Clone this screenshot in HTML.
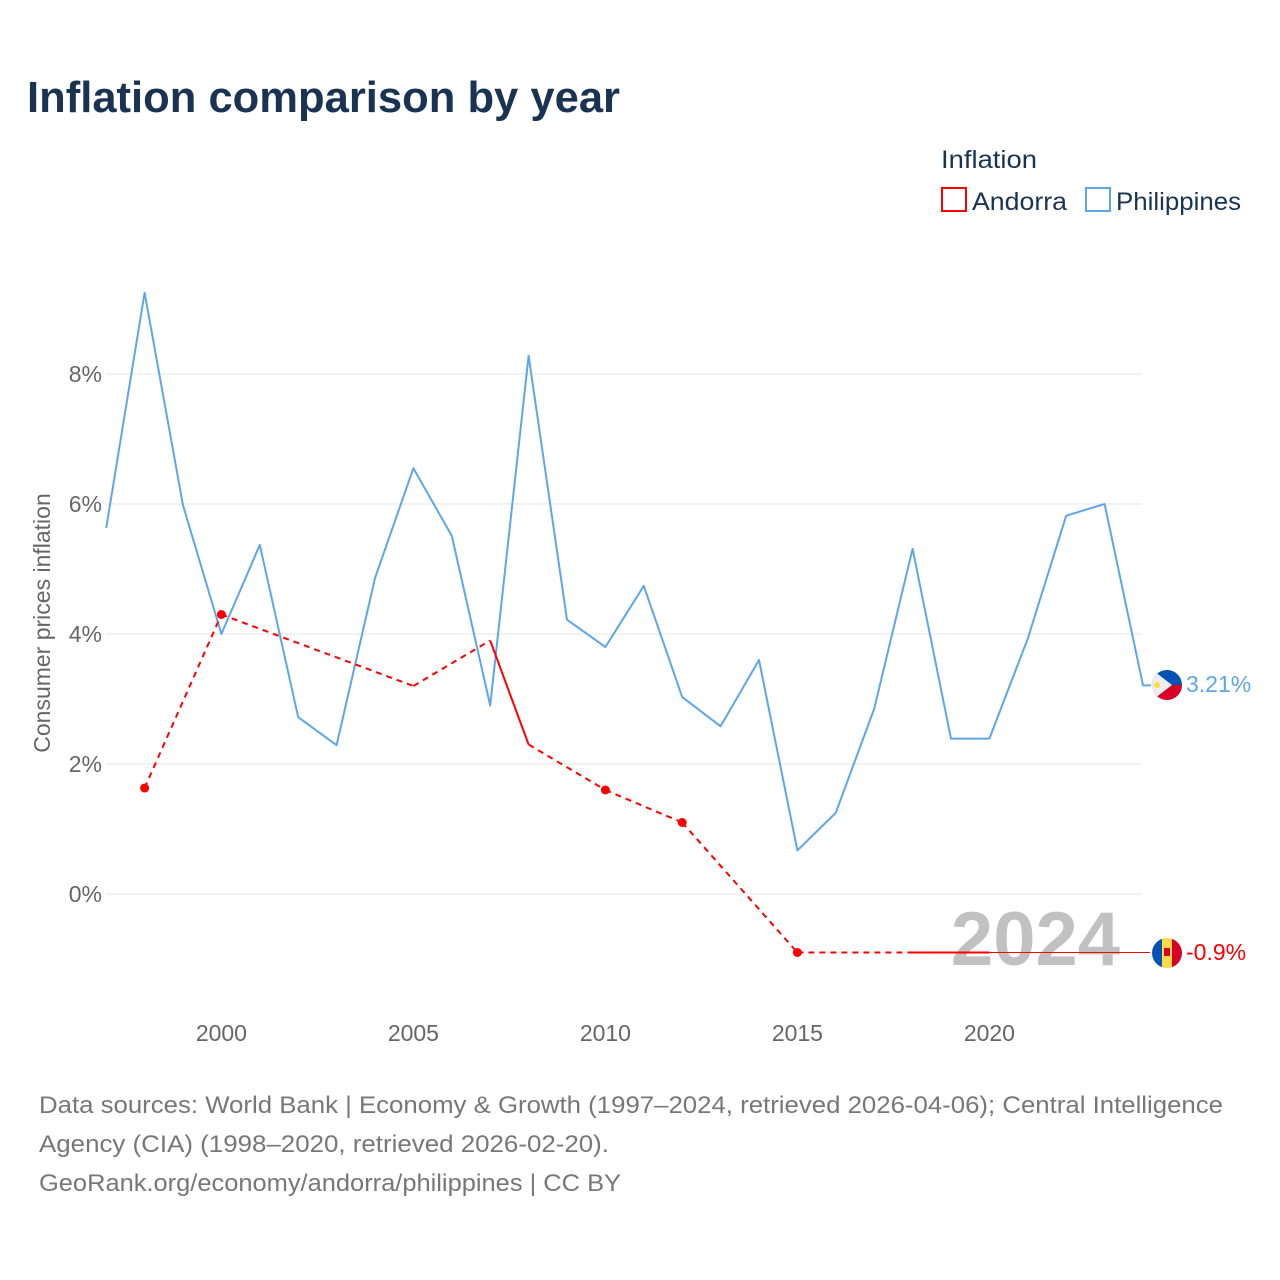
<!DOCTYPE html>
<html><head><meta charset="utf-8"><style>
body{margin:0;background:#fff;}
svg{display:block;font-family:"Liberation Sans",sans-serif;}
</style></head><body>
<svg id="chart" width="1280" height="1280" viewBox="0 0 1280 1280">
<rect width="1280" height="1280" fill="#fff"/>
<text x="27" y="112" font-size="44" font-weight="bold" fill="#1a3353" textLength="593" lengthAdjust="spacingAndGlyphs">Inflation comparison by year</text>
<g>
<text x="941" y="168" font-size="25" fill="#1a3353" textLength="96" lengthAdjust="spacingAndGlyphs">Inflation</text>
<g>
<rect x="942" y="188" width="24" height="23" fill="none" stroke="#ff0000" stroke-width="2"/>
<text x="972" y="210" font-size="25" fill="#1a3353" textLength="95" lengthAdjust="spacingAndGlyphs">Andorra</text></g>
<g>
<rect x="1086" y="188" width="24" height="23" fill="none" stroke="#5ea6ea" stroke-width="2"/>
<text x="1116" y="210" font-size="25" fill="#1a3353" textLength="125" lengthAdjust="spacingAndGlyphs">Philippines</text></g>
</g>
<g id="grid"></g>
<g id="yt"></g>
<g id="xt"></g>
<text x="0" y="0" transform="translate(50,623) rotate(-90)" text-anchor="middle" font-size="23" fill="#666">Consumer prices inflation</text>
<text x="1120" y="965" text-anchor="end" font-size="76" font-weight="bold" fill="#bbb" opacity="0.9">2024</text>
<g id="series"></g>
<g>
<clipPath id="cp1"><circle cx="1167" cy="685" r="15"/></clipPath>
<g clip-path="url(#cp1)"><rect x="1150" y="668" width="34" height="17" fill="#0052b4"/><rect x="1150" y="685" width="34" height="17" fill="#d80027"/><polygon points="1150,668 1172,685 1150,702" fill="#eee"/><circle cx="1157" cy="685" r="3" fill="#ffda44"/></g></g>
<text x="1186" y="692" font-size="23" fill="#5ea6ea">3.21%</text>
<g>
<clipPath id="cp2"><circle cx="1167" cy="953" r="15"/></clipPath>
<g clip-path="url(#cp2)"><rect x="1150" y="936" width="12" height="34" fill="#0052b4"/><rect x="1162" y="936" width="10" height="34" fill="#ffda44"/><rect x="1172" y="936" width="12" height="34" fill="#d80027"/><rect x="1164" y="948" width="6" height="8" fill="#d80027"/></g></g>
<text x="1186" y="960" font-size="23" fill="#ff0000">-0.9%</text>
<g font-size="24" fill="#777">
<text x="39" y="1113" textLength="1184" lengthAdjust="spacingAndGlyphs">Data sources: World Bank | Economy &amp; Growth (1997–2024, retrieved 2026-04-06); Central Intelligence</text>
<text x="39" y="1152" textLength="570" lengthAdjust="spacingAndGlyphs">Agency (CIA) (1998–2020, retrieved 2026-02-20).</text>
<text x="39" y="1191" textLength="582" lengthAdjust="spacingAndGlyphs">GeoRank.org/economy/andorra/philippines | CC BY</text>
</g>
</svg>
<script>
const phYears=[1997,1998,1999,2000,2001,2002,2003,2004,2005,2006,2007,2008,2009,2010,2011,2012,2013,2014,2015,2016,2017,2018,2019,2020,2021,2022,2023,2024];
const phValues=[5.63,9.25,5.98,4.0,5.37,2.72,2.29,4.86,6.55,5.51,2.9,8.28,4.22,3.8,4.74,3.03,2.58,3.6,0.67,1.25,2.85,5.31,2.39,2.39,3.93,5.82,6.0,3.21];
const adYears=[1998,2000,2005,2007,2008,2010,2012,2015,2018,2019,2020];
const adValues=[1.63,4.3,3.2,3.9,2.3,1.6,1.1,-0.9,-0.9,-0.9,-0.9];
const yTicks=[0,2,4,6,8];
const yTickLabels=["0%","2%","4%","6%","8%"];
const xTicks=[2000,2005,2010,2015,2020];
const NS="http://www.w3.org/2000/svg";
const X=y=>106.2+(y-1997)*38.4;
const Y=v=>894-v*65;
function mk(tag,attrs,parent){const e=document.createElementNS(NS,tag);for(const k in attrs)e.setAttribute(k,attrs[k]);parent.appendChild(e);return e;}
const grid=document.getElementById('grid'),yt=document.getElementById('yt'),xt=document.getElementById('xt'),ser=document.getElementById('series');
yTicks.forEach((t,i)=>{
 const l=mk('line',{x1:106,x2:1142,y1:Y(t),y2:Y(t),stroke:'#e6e6e6','stroke-width':1},grid);
 
 
 const tx=mk('text',{x:102,y:Y(t)+8,'text-anchor':'end','font-size':23,fill:'#666'},yt);
 tx.textContent=yTickLabels[i];
 
 
});
xTicks.forEach(t=>{
 const tx=mk('text',{x:X(t),y:1041,'text-anchor':'middle','font-size':23,fill:'#666'},xt);
 tx.textContent=t;
 
 
});
// Philippines
const pp=mk('polyline',{points:phYears.map((y,i)=>X(y)+','+Y(phValues[i])).join(' ')+' '+(X(2024)+8)+','+Y(3.21),fill:'none',stroke:'#5ea6ea','stroke-width':2,'stroke-linejoin':'round'},ser);


// Andorra connector to label
const lastA=adValues[adValues.length-1];
const cl=mk('line',{x1:X(adYears[adYears.length-1]),x2:1150,y1:Y(lastA),y2:Y(lastA),stroke:'#ff0000','stroke-width':1},ser);


for(let i=0;i<adYears.length-1;i++){
 const consec=adYears[i+1]-adYears[i]===1;
 const a={x1:X(adYears[i]),y1:Y(adValues[i]),x2:X(adYears[i+1]),y2:Y(adValues[i+1]),stroke:'#ff0000','stroke-width':2};
 if(!consec)a['stroke-dasharray']='6,5';
 const s=mk('line',a,ser);
 
 
}
adYears.forEach((y,i)=>{
 const prev=i>0&&y-adYears[i-1]===1, next=i<adYears.length-1&&adYears[i+1]-y===1;
 if(!prev&&!next&&y!==2005){
  const c=mk('circle',{cx:X(y),cy:Y(adValues[i]),r:4.5,fill:'#ff0000'},ser);
  
  
 }
});
</script>
</body></html>
